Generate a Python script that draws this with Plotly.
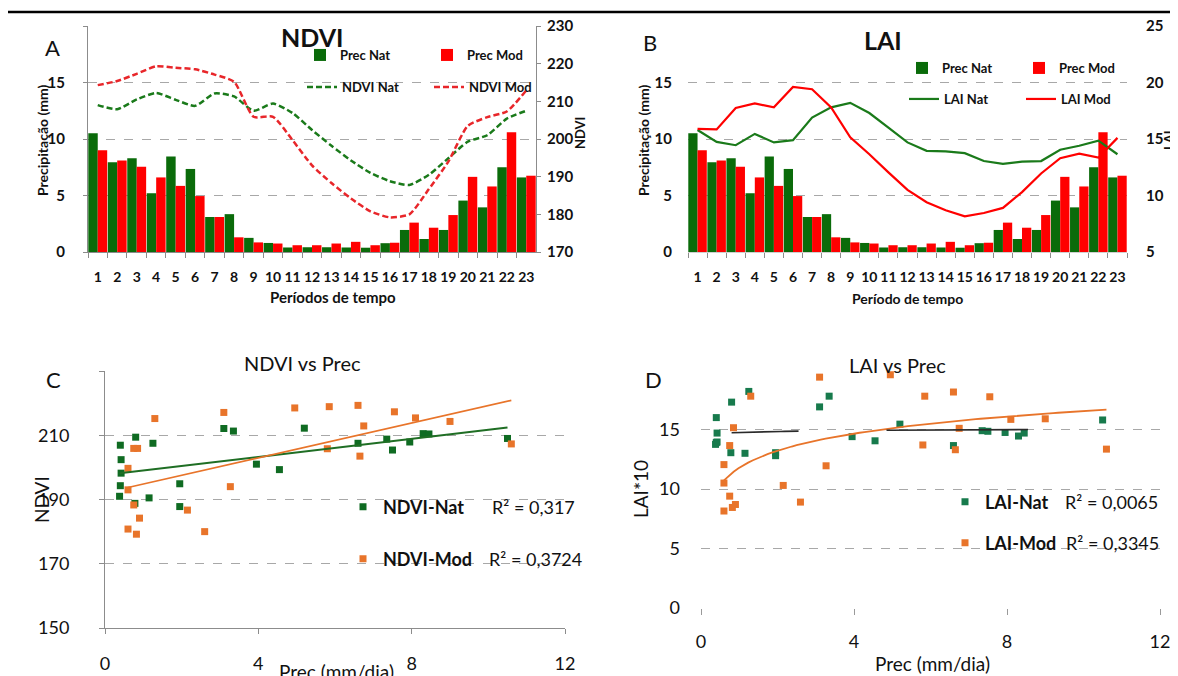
import numpy as np
import plotly.graph_objects as go

# The page body has an 8px default margin, so the figure is sized to fit the
# 1178x676 window and positions below are given in window pixels.
OFF = 8
W, H = 1178 - OFF, 676 - OFF


def px(x):
    return (x - OFF) / W


def py(y):
    return 1 - (y - OFF) / H


# ---------------- data ----------------
periods = ["1", "2", "3", "4", "5", "6", "7", "8", "9", "10", "11", "12",
           "13", "14", "15", "16", "17", "18", "19", "20", "21", "22", "23"]

prec_nat = [10.5, 7.95, 8.3, 5.2, 8.45, 7.35, 3.1, 3.35, 1.25, 0.8, 0.4, 0.42,
            0.42, 0.4, 0.38, 0.78, 1.95, 1.15, 1.95, 4.55, 3.95, 7.5, 6.6]
prec_mod = [9.0, 8.1, 7.55, 6.6, 5.85, 4.95, 3.1, 1.3, 0.85, 0.75, 0.6, 0.6,
            0.75, 0.9, 0.6, 0.82, 2.6, 2.15, 3.27, 6.65, 5.8, 10.6, 6.75]

ndvi_nat = [209.0, 207.9, 210.5, 212.2, 210.4, 208.8, 212.1, 211.3, 207.5, 209.4,
            206.9, 202.4, 198.2, 194.3, 191.0, 188.8, 187.8, 190.5, 194.9, 199.3,
            201.0, 205.4, 207.5]
ndvi_mod = [214.3, 215.4, 217.3, 219.3, 218.9, 218.5, 217.1, 215.2, 205.9, 205.9,
            199.7, 193.0, 188.3, 184.2, 180.8, 179.2, 180.0, 186.7, 194.0, 203.5,
            205.8, 207.3, 212.9]

lai_nat = [15.8, 14.75, 14.45, 15.45, 14.7, 14.9, 16.9, 17.8, 18.2, 17.3, 16.0,
           14.7, 13.95, 13.9, 13.75, 13.05, 12.8, 13.0, 13.05, 14.05, 14.4, 14.85,
           13.65]
lai_mod = [15.9, 15.85, 17.75, 18.15, 17.8, 19.6, 19.4, 17.8, 15.15, 13.65, 12.05,
           10.5, 9.4, 8.7, 8.15, 8.45, 8.9, 10.3, 11.95, 13.3, 13.7, 13.35, 15.1]

r2_ndvi_nat = "0,317"
r2_ndvi_mod = "0,3724"
r2_lai_nat = "0,0065"
r2_lai_mod = "0,3345"

# x-spans over which the (nearly flat) LAI-Nat trend line is visible
lai_nat_fit_spans = [(0.8, 2.55), (4.85, 8.55)]

# ---------------- styles ----------------
GREEN_BAR = "#0a6b0a"
RED = "#ff0000"
GREEN_LINE = "#1a7a1a"
RED_DASH = "#e8262a"
SC_GREEN_C = "#0f6b22"
SC_GREEN_D = "#177a4c"
ORANGE = "#e8742a"
FONT = "Lato"
TXT = "#111111"
GRID = "#a8a8a8"
AXIS = "#8c8c8c"

fig = go.Figure()

# ---------------- Panel A ----------------
fig.add_trace(go.Bar(x=periods, y=prec_nat, name="Prec Nat", marker=dict(color=GREEN_BAR, line=dict(width=0)),
                     xaxis="x", yaxis="y", legend="legend"))
fig.add_trace(go.Bar(x=periods, y=prec_mod, name="Prec Mod", marker=dict(color=RED, line=dict(width=0)),
                     xaxis="x", yaxis="y", legend="legend"))
fig.add_trace(go.Scatter(x=periods, y=ndvi_nat, name="NDVI Nat", mode="lines",
                         line=dict(color=GREEN_LINE, width=2.5, dash="6px,3px", shape="spline", smoothing=0.6),
                         xaxis="x", yaxis="y2", legend="legend2"))
fig.add_trace(go.Scatter(x=periods, y=ndvi_mod, name="NDVI Mod", mode="lines",
                         line=dict(color=RED_DASH, width=2.5, dash="6px,3px", shape="spline", smoothing=0.6),
                         xaxis="x", yaxis="y2", legend="legend2"))

# ---------------- Panel B ----------------
fig.add_trace(go.Bar(x=periods, y=prec_nat, name="Prec Nat", marker=dict(color=GREEN_BAR, line=dict(width=0)),
                     xaxis="x2", yaxis="y3", legend="legend3"))
fig.add_trace(go.Bar(x=periods, y=prec_mod, name="Prec Mod", marker=dict(color=RED, line=dict(width=0)),
                     xaxis="x2", yaxis="y3", legend="legend3"))
fig.add_trace(go.Scatter(x=periods, y=lai_nat, name="LAI Nat", mode="lines",
                         line=dict(color=GREEN_LINE, width=2.2),
                         xaxis="x2", yaxis="y4", legend="legend4"))
fig.add_trace(go.Scatter(x=periods, y=lai_mod, name="LAI Mod", mode="lines",
                         line=dict(color=RED, width=2.2),
                         xaxis="x2", yaxis="y4", legend="legend4"))

# ---------------- Panel C ----------------
for xs_, ys_, col, name, leg in [(prec_nat, ndvi_nat, SC_GREEN_C, "NDVI-Nat", "legend5"),
                                 (prec_mod, ndvi_mod, ORANGE, "NDVI-Mod", "legend6")]:
    fig.add_trace(go.Scatter(x=xs_, y=ys_, name=name, mode="markers",
                             marker=dict(symbol="square", size=7, color=col),
                             xaxis="x3", yaxis="y5", legend=leg))
for xs_, ys_, col, w in [(prec_nat, ndvi_nat, "#1f6e24", 2), (prec_mod, ndvi_mod, ORANGE, 1.6)]:
    a, b = np.polyfit(xs_, ys_, 1)
    fx = np.array([min(xs_), max(xs_)])
    fig.add_trace(go.Scatter(x=fx, y=a * fx + b, mode="lines", line=dict(color=col, width=w),
                             showlegend=False, hoverinfo="skip", xaxis="x3", yaxis="y5"))

# ---------------- Panel D ----------------
for xs_, ys_, col, name, leg in [(prec_nat, lai_nat, SC_GREEN_D, "LAI-Nat", "legend7"),
                                 (prec_mod, lai_mod, ORANGE, "LAI-Mod", "legend8")]:
    fig.add_trace(go.Scatter(x=xs_, y=ys_, name=name, mode="markers",
                             marker=dict(symbol="square", size=7, color=col),
                             xaxis="x4", yaxis="y6", legend=leg))
# log trend, LAI-Mod
a, b = np.polyfit(np.log(prec_mod), lai_mod, 1)
fx = np.linspace(min(prec_mod), max(prec_mod), 80)
fig.add_trace(go.Scatter(x=fx, y=a * np.log(fx) + b, mode="lines", line=dict(color=ORANGE, width=1.8),
                         showlegend=False, hoverinfo="skip", xaxis="x4", yaxis="y6"))
# log trend, LAI-Nat (nearly flat)
a, b = np.polyfit(np.log(prec_nat), lai_nat, 1)
sx, sy = [], []
for lo, hi in lai_nat_fit_spans:
    seg = np.linspace(lo, hi, 20)
    sx += list(seg) + [None]
    sy += list(a * np.log(seg) + b) + [None]
fig.add_trace(go.Scatter(x=sx, y=sy, mode="lines", line=dict(color="#2a2a2a", width=1.6),
                         showlegend=False, hoverinfo="skip", xaxis="x4", yaxis="y6"))

# ---------------- layout ----------------
bold = lambda s: dict(family=FONT, size=s, color=TXT, weight="bold")
reg = lambda s: dict(family=FONT, size=s, color=TXT)

common_cat = dict(type="category", tickson="boundaries", ticks="outside", ticklen=5, tickcolor=AXIS,
                  tickangle=0, showgrid=False, zeroline=False, tickfont=bold(14), automargin=False,
                  ticklabelstandoff=12)

fig.update_layout(
    width=W, height=H, margin=dict(l=0, r=0, t=0, b=0),
    template="none", paper_bgcolor="white", plot_bgcolor="rgba(0,0,0,0)",
    barmode="group", bargap=0.03, bargroupgap=0,
    font=reg(14),
    # A
    xaxis=dict(domain=[px(88), px(536)], anchor="y", showline=True, linecolor=AXIS, linewidth=1,
               **common_cat),
    yaxis=dict(domain=[py(252), py(26)], anchor="x", range=[0, 20], tickvals=[0, 5, 10, 15, 20],
               ticktext=["0", "5", "10", "15", ""], showgrid=True, gridcolor=GRID, griddash="dash",
               showline=True, linecolor=AXIS, ticks="outside", ticklen=4, tickcolor=AXIS,
               ticklabelstandoff=15, zeroline=False, tickfont=bold(15), automargin=False),
    yaxis2=dict(overlaying="y", side="right", anchor="x", range=[170, 230],
                tickvals=[170, 180, 190, 200, 210, 220, 230], showgrid=False, showline=True,
                linecolor=AXIS, ticks="outside", ticklen=4, tickcolor=AXIS, ticklabelstandoff=3,
                zeroline=False, tickfont=bold(15), automargin=False),
    # B
    xaxis2=dict(domain=[px(688), px(1127)], anchor="y3", showline=True, linecolor="#d0d0d0", linewidth=1,
                **common_cat),
    yaxis3=dict(domain=[py(252), py(26)], anchor="x2", range=[0, 20], tickvals=[0, 5, 10, 15, 20],
                ticktext=["0", "5", "10", "15", ""], showgrid=True, gridcolor=GRID, griddash="dash",
                showline=False, ticks="", ticklabelstandoff=15, zeroline=False, tickfont=bold(15),
                automargin=False),
    yaxis4=dict(overlaying="y3", side="right", anchor="x2", range=[5, 25],
                tickvals=[5, 10, 15, 20, 25], showgrid=False, showline=False, ticks="",
                ticklabelstandoff=18, zeroline=False, tickfont=bold(15), automargin=False),
    # C
    xaxis3=dict(domain=[px(105), px(565)], anchor="y5", range=[0, 12], tickvals=[0, 4, 8, 12],
                showline=True, linecolor=AXIS, ticks="outside", ticklen=5, tickcolor=AXIS,
                ticklabelstandoff=14, showgrid=False, zeroline=False, tickfont=reg(18), automargin=False,
                ticklabeloverflow="allow"),
    yaxis5=dict(domain=[py(628), py(371)], anchor="x3", range=[150, 230],
                tickvals=[150, 170, 190, 210, 230], ticktext=["150", "170", "190", "210", ""],
                showgrid=True, gridcolor=GRID, griddash="dash", showline=True, linecolor=AXIS,
                ticks="outside", ticklen=5, tickcolor=AXIS, ticklabelstandoff=26, zeroline=False,
                tickfont=reg(18), automargin=False),
    # D
    xaxis4=dict(domain=[px(701), px(1160)], anchor="y6", range=[0, 12], tickvals=[0, 4, 8, 12],
                showline=False, ticks="outside", ticklen=6, tickcolor="#9a9a9a",
                ticklabelstandoff=11, showgrid=False, zeroline=False, tickfont=reg(18), automargin=False,
                ticklabeloverflow="allow"),
    yaxis6=dict(domain=[py(608), py(370)], anchor="x4", range=[0, 20],
                tickvals=[0, 5, 10, 15, 20], ticktext=["0", "5", "10", "15", ""],
                showgrid=True, gridcolor=GRID, griddash="dash", showline=False, ticks="",
                ticklabelstandoff=20, zeroline=False, tickfont=reg(18), automargin=False),
)


def leg(x, y, ew, font):
    return dict(x=px(x), y=py(y), xanchor="left", yanchor="middle", orientation="h",
                entrywidth=ew, entrywidthmode="pixels", bgcolor="rgba(0,0,0,0)", borderwidth=0,
                font=font, traceorder="normal", itemclick=False, itemdoubleclick=False)


fig.update_layout(
    legend=leg(300, 55, 82, bold(13)),
    legend2=leg(302, 87, 82, bold(13)),
    legend3=leg(902, 68, 72, bold(13)),
    legend4=leg(904, 99, 72, bold(13)),
    legend5=leg(343, 507, 100, bold(18)),
    legend6=leg(343, 559, 100, bold(18)),
    legend7=leg(945, 502, 80, bold(18)),
    legend8=leg(945, 543, 80, bold(18)),
)

ann = []


def text(x, y, s, font, xanchor="center", angle=0):
    ann.append(dict(x=px(x), y=py(y), xref="paper", yref="paper", text=s, showarrow=False,
                    xanchor=xanchor, yanchor="middle", font=font, textangle=angle))


# panel letters and titles
text(52, 47, "A", reg(22))
text(312, 37, "NDVI", bold(25))
text(650, 42, "B", reg(22))
text(883, 40, "LAI", bold(25))
text(53, 380, "C", reg(22))
text(302, 363, "NDVI vs Prec", reg(20))
text(653, 380, "D", reg(22))
text(897, 365, "LAI vs Prec", reg(20))
# axis titles
text(42, 141, "Precipitação (mm)", bold(14), angle=-90)
text(333, 297, "Períodos de tempo", bold(15))
text(580, 133, "NDVI", bold(13), angle=-90)
text(643, 141, "Precipitação (mm)", bold(14), angle=-90)
text(907, 298, "Período de tempo", bold(14))
text(1169, 140, "LAI", bold(13), angle=-90)
text(41, 500, "NDVI", reg(19), angle=-90)
text(336, 671, "Prec (mm/dia)", reg(19))
text(640, 489, "LAI*10", reg(19), angle=-90)
text(932, 663, "Prec (mm/dia)", reg(19))
# R² labels
text(490, 507, "R² = " + r2_ndvi_nat, reg(18), xanchor="left")
text(487, 559, "R² = " + r2_ndvi_mod, reg(18), xanchor="left")
text(1063, 502, "R² = " + r2_lai_nat, reg(18), xanchor="left")
text(1064, 543, "R² = " + r2_lai_mod, reg(18), xanchor="left")

fig.update_layout(annotations=ann)
fig.add_shape(type="line", xref="paper", yref="paper", x0=px(8), x1=1, y0=py(12), y1=py(12),
              line=dict(color="black", width=2.5))

fig.write_html("out.html")
